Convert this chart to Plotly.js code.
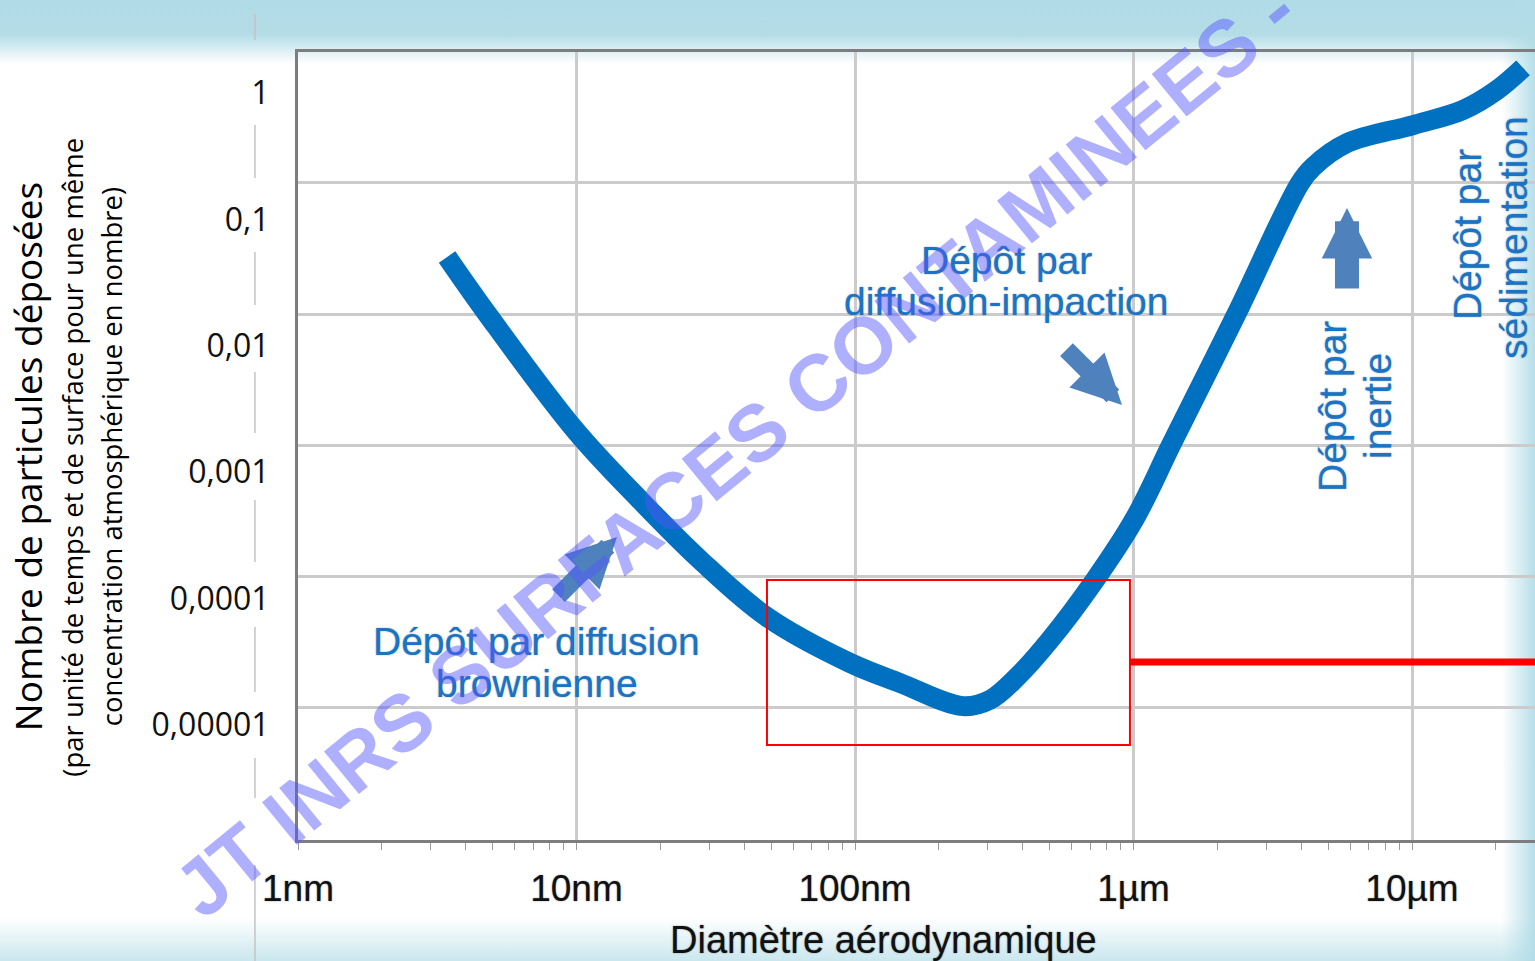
<!DOCTYPE html>
<html><head><meta charset="utf-8">
<script src="https://cdn.plot.ly/plotly-3.0.1.min.js"></script>
<style>
html,body{margin:0;padding:0;width:1535px;height:961px;overflow:hidden;background:#fff;}
#bg{position:absolute;left:0;top:0;width:1535px;height:961px;
background:
 linear-gradient(to right, rgba(178,220,231,0) 1502px, rgba(178,220,231,0.95) 1535px),
 linear-gradient(to bottom, #b1dbe6 0px, #b3dce7 34px, #ffffff 64px, #ffffff 918px, #c9e7ee 961px);}
#chart{position:absolute;left:0;top:0;width:1535px;height:961px;}
</style></head><body><div id="bg"></div><div id="chart"></div>
<script>
// ---- data ----
const diameterNm = [3.43, 4.81, 9.88, 16.9, 27.8, 48.3, 95.9, 145, 244, 305, 382, 501, 727, 1013, 1375, 2353, 3962, 4412, 5845, 10090, 15240, 20200, 25040];
const depositRate = [0.0504, 0.01753, 0.002157, 0.000603, 0.000202, 0.0000715, 0.000031, 0.0000215, 0.0000141, 0.0000158, 0.000024, 0.000047, 0.0001404, 0.000434, 0.0017, 0.0182, 0.194, 0.26, 0.402, 0.558, 0.734, 1.056, 1.58];
const xTickVals = [1, 10, 100, 1000, 10000];
const xTickText = ['1nm', '10nm', '100nm', '1µm', '10µm'];
const yTickVals = [1, 0.1, 0.01, 0.001, 0.0001, 0.00001];
const yTickText = ['1', '0,1', '0,01', '0,001', '0,0001', '0,00001'];
// horizontal grid lines of the original picture (not aligned with the labels)
const gridLevels = [0.1941, 0.01753, 0.001641, 0.0001482, 0.00001363];
const highlightX = [48.3, 971];
const highlightY = [0.00014, 0.00000695];
const highlightLineY = 0.0000315;
const highlightLineX = [971, 40000];

const blue = '#0070C0';
const textBlue = '#1a74c6';
const arrowBlue = '#4f81bd';
const sans = 'Liberation Sans, Arial, sans-serif';
const open = 'Open Sans, sans-serif';
const halo = '0px 0px 1.5px rgba(110,130,150,0.9)';

const traces = [{
  x: diameterNm, y: depositRate, type: 'scatter', mode: 'lines',
  line: {color: blue, width: 20, shape: 'spline', smoothing: 1},
  hoverinfo: 'skip', showlegend: false
}];

function txt(text, x, y, size, angle, color, family, shadow) {
  const f = {family: family || sans, size: size, color: color || textBlue};
  if (shadow) f.shadow = shadow;
  return {text: text, x: x, y: y, xref: 'paper', yref: 'paper', showarrow: false,
    xanchor: 'center', yanchor: 'middle', textangle: angle || 0, font: f};
}
function arrow(x, y, ax, ay, w, s) {
  return {text: '', x: x, y: y, xref: 'paper', yref: 'paper', ax: ax, ay: ay,
    showarrow: true, arrowhead: 2, arrowwidth: w, arrowsize: s, arrowcolor: arrowBlue,
    font: {size: 1}};
}

const annotations = [
  txt('Dépôt par diffusion', 0.1932, 0.2525, 39, 0, textBlue, sans, halo),
  txt('brownienne', 0.1932, 0.1980, 39, 0, textBlue, sans, halo),
  txt('Dépôt par', 0.5724, 0.7360, 39, 0, textBlue, sans, halo),
  txt('diffusion-impaction', 0.5724, 0.6840, 39, 0, textBlue, sans, halo),
  txt('Dépôt par', 0.8367, 0.5508, 39, -90, textBlue, sans, halo),
  txt('inertie', 0.8731, 0.5508, 39, -90, textBlue, sans, halo),
  txt('Dépôt par', 0.9459, 0.7678, 39, -90, textBlue, sans, halo),
  txt('sédimentation', 0.9822, 0.7652, 39, -90, textBlue, sans, halo),
  arrow(0.2579, 0.3845, -60, 60, 18, 0.55),
  arrow(0.6661, 0.5520, -57, -57, 18, 0.55),
  arrow(0.8480, 0.8020, 0, 82, 24, 0.42),
  txt('Nombre de particules déposées', -0.2190, 0.4860, 37, -90, '#000', open),
  txt('(par unité de temps et de surface pour une même', -0.1830, 0.4860, 27.5, -90, '#000', open),
  txt('concentration atmosphérique en nombre)', -0.1510, 0.4860, 27.5, -90, '#000', open),
  txt('Diamètre aérodynamique', 0.4737, -0.1269, 38, 0, '#111', sans, '0px 0px 1.5px rgba(90,90,90,0.8)'),
  {text: '<b>JT INRS SURFACES CONTAMINEES -</b>', x: 0.3533, y: 0.4949, xref: 'paper', yref: 'paper',
   showarrow: false, xanchor: 'center', yanchor: 'middle', textangle: -39.3,
   font: {family: sans, size: 80, color: 'rgba(85,85,255,0.47)'}}
];

const lx = -0.0348;
const segs = [[1.0482,1.0152],[0.9074,0.8401],[0.7462,0.6789],[0.5939,0.5165],[0.4315,0.3528],[0.2703,0.1878],[0.1041,0.0533],[-0.0317,-0.1536]];
const leftPath = segs.map(s => `M${lx},${s[0]} L${lx},${s[1]}`).join(' ');

const shapes = [
  {type: 'path', xref: 'paper', yref: 'paper', path: leftPath, line: {color: '#c4c4c4', width: 1.5}},
  {type: 'rect', xref: 'x', yref: 'y', x0: highlightX[0], x1: highlightX[1], y0: highlightY[0], y1: highlightY[1],
   line: {color: '#ff0000', width: 2}, fillcolor: 'rgba(0,0,0,0)'},
  {type: 'line', xref: 'x', yref: 'y', x0: highlightLineX[0], x1: highlightLineX[1], y0: highlightLineY, y1: highlightLineY,
   line: {color: '#ff0000', width: 7}}
];

const layout = {
  width: 1535, height: 961,
  margin: {l: 298, r: 0, t: 52, b: 121, pad: 0},
  paper_bgcolor: 'rgba(0,0,0,0)', plot_bgcolor: 'rgba(0,0,0,0)',
  showlegend: false,
  xaxis: {type: 'log', range: [0, 4.4416], tickvals: xTickVals, ticktext: xTickText,
    showgrid: true, gridcolor: '#cbcbcb', gridwidth: 3, zeroline: false,
    showline: true, mirror: true, linecolor: '#7d7d7d', linewidth: 3,
    ticks: '', ticklabelstandoff: 14,
    tickfont: {family: sans, size: 37, color: '#111', shadow: '0px 0px 1.5px rgba(90,90,90,0.8)'},
    minor: {dtick: 'D1', ticks: 'outside', ticklen: 7, tickcolor: '#9a9a9a', tickwidth: 1, showgrid: false}},
  yaxis: {type: 'log', range: [-5.910, 0.3244], tickvals: yTickVals, ticktext: yTickText,
    showgrid: false, zeroline: false,
    showline: true, linecolor: '#7d7d7d', linewidth: 3,
    ticks: '', ticklabelstandoff: 19,
    tickfont: {family: open, size: 32, color: '#111'},
    minor: {tickvals: gridLevels, ticks: '', showgrid: true, gridcolor: '#cbcbcb', gridwidth: 3}},
  annotations: annotations,
  shapes: shapes
};

Plotly.newPlot('chart', traces, layout, {displayModeBar: false, staticPlot: true});
</script></body></html>
